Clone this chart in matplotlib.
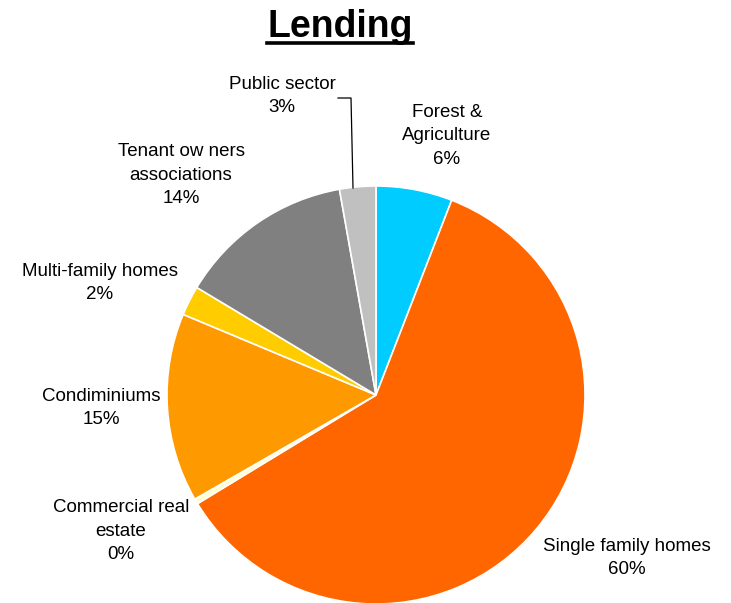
import matplotlib
matplotlib.use("Agg")
import matplotlib.pyplot as plt
from matplotlib.lines import Line2D

categories = ["Forest &\nAgriculture", "Single family homes", "Commercial real\nestate",
              "Condiminiums", "Multi-family homes", "Tenant ow ners\nassociations", "Public sector"]
values = [5.9, 60.4, 0.4, 14.6, 2.3, 13.6, 2.8]
colors = ["#00CCFF", "#FF6600", "#FFFFCC", "#FF9900", "#FFCC00", "#808080", "#C0C0C0"]
title = "Lending"

W, H = 731, 603
plt.rcParams['font.family'] = ['Liberation Sans', 'DejaVu Sans']
fig = plt.figure(figsize=(W / 100, H / 100), dpi=100)

def fx(px):
    return px / W

def fy(py):
    return 1 - py / H

# pie axes
cx, cy, r = 376, 395, 209
ax = fig.add_axes([fx(cx - r), fy(cy + r), 2 * r / W, 2 * r / H])
ax.pie(values, colors=colors, startangle=90, counterclock=False, radius=1,
       wedgeprops=dict(edgecolor="white", linewidth=1.2))
ax.set_xlim(-1, 1)
ax.set_ylim(-1, 1)
ax.set_aspect("auto")
ax.axis("off")

# labels
total = sum(values)
label_pos = [(447, 136), (627, 558), (121, 531), (101, 408), (100, 283), (181, 175), (282, 96)]
for cat, v, (px, py) in zip(categories, values, label_pos):
    fig.text(fx(px), fy(py), f"{cat}\n{round(v / total * 100):.0f}%", ha="center", va="center",
             fontsize=13.5, linespacing=1.5, color="black")

# leader line for public sector
fig.add_artist(Line2D([fx(338), fx(351), fx(353)], [fy(98), fy(98), fy(188)],
                      color="black", linewidth=0.9))

# title with underline
t = fig.text(fx(340), fy(27), title, ha="center", va="center", fontsize=27, fontweight="bold")
fig.canvas.draw()
bb = t.get_window_extent()
x0, x1 = bb.x0 / W, bb.x1 / W
fig.add_artist(Line2D([x0, x1], [fy(43), fy(43)], color="black", linewidth=2.6))

fig.savefig("out.png", dpi=100)
